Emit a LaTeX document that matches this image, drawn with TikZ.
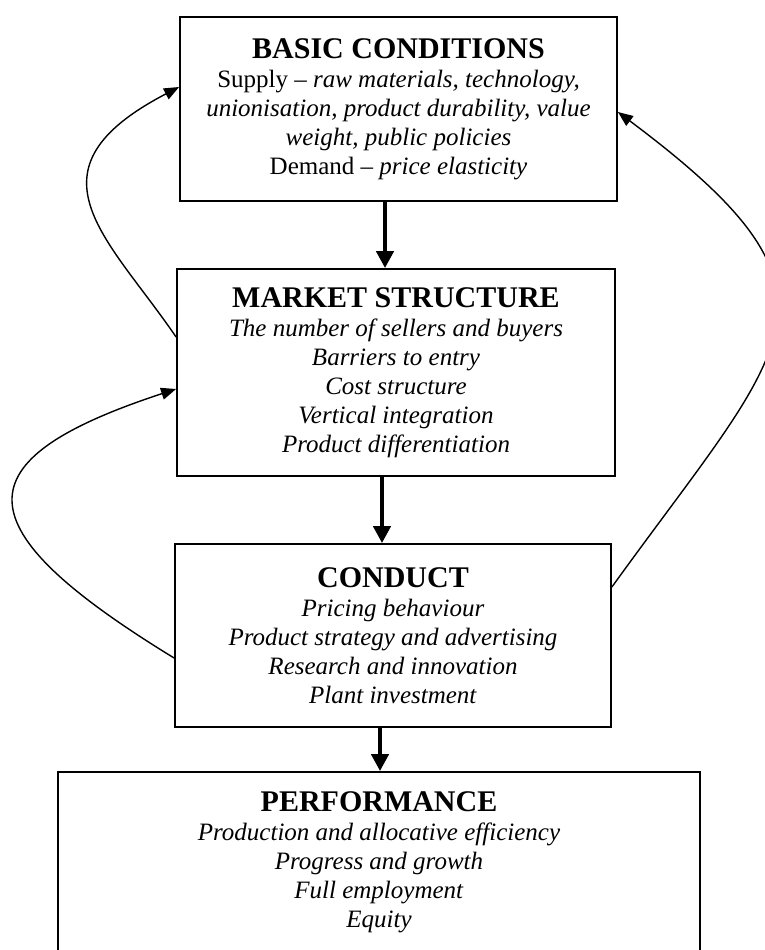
\documentclass[tikz,border=0pt]{standalone}
\usepackage{fontspec}
\setmainfont{Liberation Serif}
\usetikzlibrary{arrows.meta}
\tikzset{
  box/.style={draw, line width=1.8pt, rectangle, align=center, inner sep=0pt,
    font=\fontsize{25}{29}\selectfont},
  feedback/.style={-{Triangle[length=15pt,width=12pt]}, line width=1.4pt},
  flowarrow/.style={-{Triangle[length=17pt,width=17pt]}, line width=4.5pt},
}
\newcommand{\boxtitle}[1]{{\fontsize{30}{29}\selectfont\bfseries #1}}
\begin{document}
\begin{tikzpicture}[x=1pt,y=-1pt]
\useasboundingbox (0,0) rectangle (765,950);

\node[box, minimum width=437pt, minimum height=184pt] (basic) at (398.5,109) {%
\boxtitle{BASIC CONDITIONS}\\
Supply -- \textit{raw materials, technology,}\\
\textit{unionisation, product durability, value}\\
\textit{weight, public policies}\\
Demand -- \textit{price elasticity}};

\node[box, minimum width=438pt, minimum height=207pt] (market) at (396,372.5) {%
\boxtitle{MARKET STRUCTURE}\\
\textit{The number of sellers and buyers}\\
\textit{Barriers to entry}\\
\textit{Cost structure}\\
\textit{Vertical integration}\\
\textit{Product differentiation}};

\node[box, minimum width=436pt, minimum height=183pt] (conduct) at (393,635.5) {%
\boxtitle{CONDUCT}\\
\textit{Pricing behaviour}\\
\textit{Product strategy and advertising}\\
\textit{Research and innovation}\\
\textit{Plant investment}};

\node[box, minimum width=642pt, minimum height=180pt] (perf) at (379,862) {%
\boxtitle{PERFORMANCE}\\
\textit{Production and allocative efficiency}\\
\textit{Progress and growth}\\
\textit{Full employment}\\
\textit{Equity}};

\coordinate (axA) at (385,0);
\coordinate (axB) at (382,0);
\coordinate (axC) at (380,0);

\draw[flowarrow] (basic.south -| axA) -- (market.north -| axA);
\draw[flowarrow] (market.south -| axB) -- (conduct.north -| axB);
\draw[flowarrow] (conduct.south -| axC) -- (perf.north -| axC);

\draw[feedback] ([yshift=35.5pt]market.west) .. controls (107,236) and (20,170) .. ([yshift=22pt]basic.west);
\draw[feedback] ([yshift=-22.5pt]conduct.west) .. controls (-40,527) and (-40,460) .. ([yshift=-16.5pt]market.west);
\draw[feedback] ([yshift=48.5pt]conduct.east) .. controls (790,340) and (865,297) .. ([yshift=-3pt]basic.east);
\end{tikzpicture}
\end{document}
